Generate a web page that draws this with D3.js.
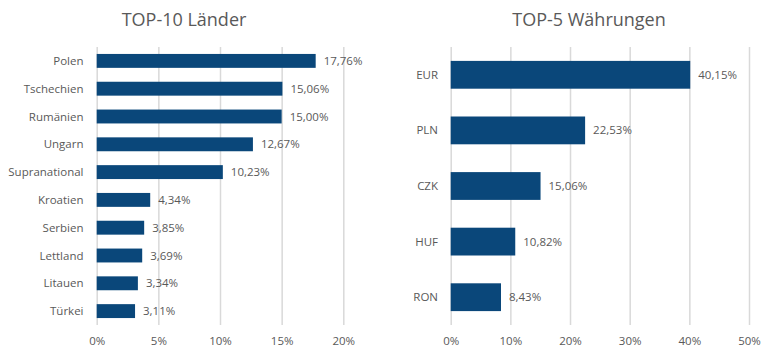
<!DOCTYPE html>
<html><head><meta charset="utf-8">
<script src="https://cdn.jsdelivr.net/npm/d3@7"></script>
<style>body{margin:0;background:#fff;}svg{display:block;font-family:"Open Sans",sans-serif;}</style>
</head><body><svg id="c" width="770" height="358"></svg>
<script>
const countries = ["Polen","Tschechien","Rumänien","Ungarn","Supranational","Kroatien","Serbien","Lettland","Litauen","Türkei"];
const countryValues = [17.76,15.06,15.00,12.67,10.23,4.34,3.85,3.69,3.34,3.11];
const countryTicks = [0,5,10,15,20];
const currencies = ["EUR","PLN","CZK","HUF","RON"];
const currencyValues = [40.15,22.53,15.06,10.82,8.43];
const currencyTicks = [0,10,20,30,40,50];
const titles = ["TOP-10 Länder","TOP-5 Währungen"];

const svg = d3.select("#c");
const barColor = "#0a477a", textColor = "#595959", gridColor = "#d9d9d9";
const fmt = v => v.toFixed(2).replace(".", ",") + "%";

function panel(cfg){
  const g = svg.append("g");
  const x = d3.scaleLinear().domain([0, cfg.max]).range([cfg.x0, cfg.x1]);
  const y = d3.scaleBand().domain(cfg.cats).range([47, 325]).paddingInner(0.5).paddingOuter(0.25);
  g.append("text").attr("x", cfg.tx).attr("y", 26).attr("text-anchor","middle")
    .attr("font-size", 18).attr("fill", textColor).text(cfg.title);
  const ax = d3.axisBottom(x).tickValues(cfg.ticks).tickSize(-(325-47)).tickFormat(d => d + "%");
  const axg = g.append("g").attr("transform","translate(0,325)").call(ax);
  axg.select(".domain").remove();
  axg.selectAll(".tick line").attr("stroke", gridColor).attr("stroke-width", 1.5);
  axg.selectAll(".tick text").attr("fill", textColor).attr("font-size", 11.5).attr("dy", "1.5em")
    .attr("font-family", '"Open Sans",sans-serif');
  g.selectAll("rect.bar").data(cfg.vals).enter().append("rect").attr("class","bar")
    .attr("x", x(0)).attr("y", (d,i) => y(cfg.cats[i]))
    .attr("width", d => x(d) - x(0)).attr("height", y.bandwidth()).attr("fill", barColor);
  g.selectAll("text.val").data(cfg.vals).enter().append("text").attr("class","val")
    .attr("x", d => x(d) + 8).attr("y", (d,i) => y(cfg.cats[i]) + y.bandwidth()/2)
    .attr("dy","0.35em").attr("font-size", 11.5).attr("fill", textColor).text(fmt);
  g.selectAll("text.cat").data(cfg.cats).enter().append("text").attr("class","cat")
    .attr("x", cfg.lx).attr("y", d => y(d) + y.bandwidth()/2).attr("dy","0.35em")
    .attr("text-anchor","end").attr("font-size", 11.5).attr("fill", textColor).text(d => d);
}
panel({cats: countries, vals: countryValues, ticks: countryTicks, max: 20, x0: 96.7, x1: 343.3, title: titles[0], tx: 184, lx: 83.5});
panel({cats: currencies, vals: currencyValues, ticks: currencyTicks, max: 50, x0: 450.7, x1: 749, title: titles[1], tx: 589, lx: 438});
</script></body></html>
